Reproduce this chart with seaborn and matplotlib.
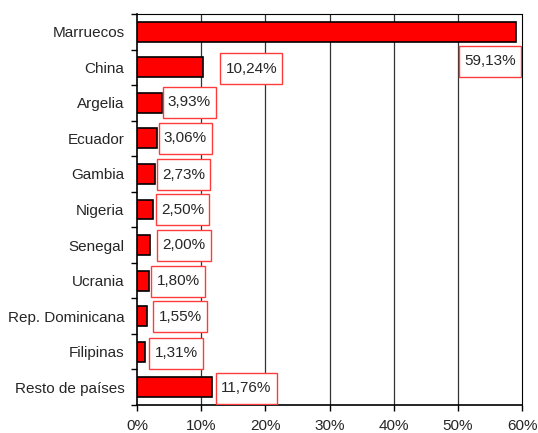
import matplotlib
matplotlib.use("Agg")
import matplotlib.pyplot as plt
from matplotlib.patches import Rectangle
import seaborn as sns
import numpy as np
import pandas as pd

paises = ["Marruecos", "China", "Argelia", "Ecuador", "Gambia", "Nigeria",
          "Senegal", "Ucrania", "Rep. Dominicana", "Filipinas", "Resto de países"]
porcentajes = [59.13, 10.24, 3.93, 3.06, 2.73, 2.50, 2.00, 1.80, 1.55, 1.31, 11.76]
etiquetas = ["59,13%", "10,24%", "3,93%", "3,06%", "2,73%", "2,50%",
             "2,00%", "1,80%", "1,55%", "1,31%", "11,76%"]
xticks_vals = [0, 10, 20, 30, 40, 50, 60]
xticks_lbls = ["0%", "10%", "20%", "30%", "40%", "50%", "60%"]

# label placement (x in %, y offset in category units)
lab_x = [55.0, 17.8, 8.18, 7.55, 7.24, 7.09, 7.32, 6.39, 6.70, 6.07, 17.06]
lab_dy = [0.83, 0.04, -0.02, 0.0, 0.02, 0.0, 0.01, 0.02, 0.02, 0.04, 0.03]

sns.set_style("white")
plt.rcParams['font.family'] = ['Liberation Sans', 'DejaVu Sans']

df = pd.DataFrame({"pais": paises, "pct": porcentajes})

fig = plt.figure(figsize=(5.38, 4.33), dpi=100)
ax = fig.add_axes([137/538, 1-405/433, (522-137)/538, (405-14)/433])

sns.barplot(data=df, y="pais", x="pct", orient="h", color="#ff0000",
            edgecolor="black", linewidth=1.2, width=0.56, saturation=1, ax=ax)

ax.set_xlim(0, 60)
ax.set_ylim(10.5, -0.5)
ax.set_xticks(xticks_vals)
ax.set_xticklabels(xticks_lbls, fontsize=11)
ax.set_yticks(range(len(paises)))
ax.set_yticklabels(paises, fontsize=11)
ax.set_xlabel("")
ax.set_ylabel("")

for v in xticks_vals[1:-1]:
    ax.axvline(v, color="#333333", lw=0.9, zorder=0)

ax.set_yticks(np.arange(-0.5, 11, 1), minor=True)
ax.tick_params(axis='y', which='major', length=0, pad=9)
ax.tick_params(axis='y', which='minor', length=4, width=1, color='black', direction='out', left=True)
ax.tick_params(axis='x', which='major', length=4, width=1, color='black', direction='out', bottom=True, pad=6)

for s in ax.spines.values():
    s.set_color("black")
    s.set_linewidth(0.8)
ax.spines['left'].set_linewidth(1.2)
ax.spines['bottom'].set_linewidth(1.2)

texts = []
for i, lbl in enumerate(etiquetas):
    t = ax.text(lab_x[i], i + lab_dy[i], lbl, fontsize=11, ha="center", va="center",
                zorder=6)
    texts.append(t)

fig.canvas.draw()
renderer = fig.canvas.get_renderer()
padx = 5
for t in texts:
    bb = t.get_window_extent(renderer)
    cy = (bb.y0 + bb.y1) / 2
    h = 31
    r = Rectangle((bb.x0 - padx, cy - h / 2), bb.width + 2 * padx, h,
                  transform=None, facecolor="white", edgecolor="#ff3b3b",
                  linewidth=1.0, zorder=5)
    ax.add_artist(r)

fig.savefig("out.png", dpi=100)
